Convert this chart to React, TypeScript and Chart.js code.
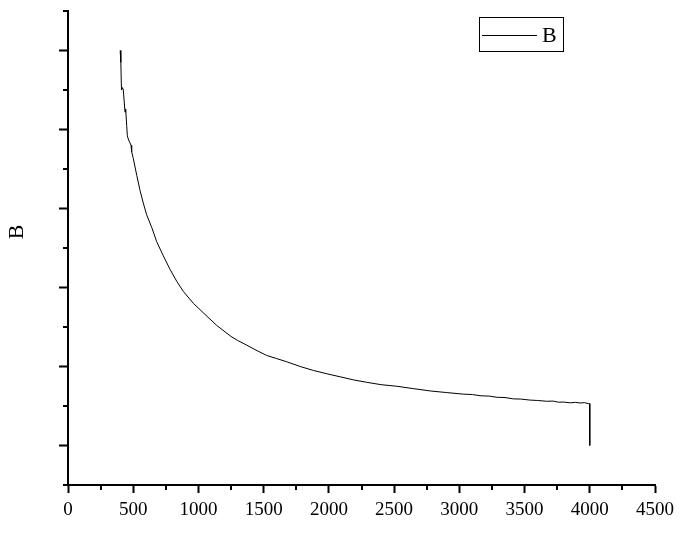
import React, { useEffect, useRef } from "react";
import { Chart, registerables } from "chart.js";

Chart.register(...registerables);

const seriesName = "B";
const xTickValues = [0, 500, 1000, 1500, 2000, 2500, 3000, 3500, 4000, 4500];
const xValues = [
  400, 405, 410, 418, 424, 437, 442, 450, 455, 462, 475, 483, 488, 501, 527, 552, 577, 603, 642, 680,
  731, 782, 833, 884, 961, 1037, 1140, 1250, 1300, 1370, 1450, 1523, 1600, 1677, 1780, 1881, 1980, 2085,
  2190, 2290, 2400, 2520, 2647, 2780, 2903, 3030, 3100, 3159, 3230, 3290, 3350, 3414, 3470, 3540, 3600,
  3670, 3720, 3760, 3800, 3850, 3890, 3925, 3960, 3990, 4000, 4000,
];
const yValues = [
  5.0, 4.85, 4.5, 4.53, 4.5, 4.22, 4.26, 4.05, 3.92, 3.88, 3.83, 3.8, 3.72, 3.63, 3.42, 3.23, 3.07, 2.92,
  2.76, 2.58, 2.4, 2.23, 2.08, 1.95, 1.8, 1.68, 1.52, 1.38, 1.33, 1.27, 1.2, 1.14, 1.1, 1.06, 1.0, 0.95,
  0.91, 0.87, 0.83, 0.8, 0.77, 0.75, 0.72, 0.69, 0.67, 0.65, 0.645, 0.63, 0.625, 0.61, 0.607, 0.59, 0.588,
  0.575, 0.57, 0.56, 0.562, 0.548, 0.55, 0.54, 0.546, 0.538, 0.542, 0.53, 0.53, 0.0,
];
const yMajorTicks = [0, 1, 2, 3, 4, 5];
const yMin = -0.5;
const yMax = 5.5;

const FONT = "'Liberation Serif', 'Times New Roman', serif";

const decorPlugin = {
  id: "decor",
  afterDraw(chart: any) {
    const ctx = chart.ctx;
    const xs = chart.scales.x;
    const ys = chart.scales.y;
    const area = chart.chartArea;
    ctx.save();
    ctx.strokeStyle = "#000";
    ctx.lineWidth = 2;
    // minor x ticks
    for (let v = 250; v < 4500; v += 500) {
      const px = Math.round(xs.getPixelForValue(v));
      ctx.beginPath();
      ctx.moveTo(px, area.bottom);
      ctx.lineTo(px, area.bottom + 5);
      ctx.stroke();
    }
    // minor y ticks
    for (let v = yMin; v <= yMax + 0.001; v += 1) {
      const py = Math.round(ys.getPixelForValue(v));
      ctx.beginPath();
      ctx.moveTo(area.left, py);
      ctx.lineTo(area.left - 5, py);
      ctx.stroke();
    }
    // y title
    ctx.fillStyle = "#000";
    ctx.font = `22px ${FONT}`;
    ctx.translate(17, 232);
    ctx.rotate(-Math.PI / 2);
    ctx.textAlign = "center";
    ctx.textBaseline = "middle";
    ctx.fillText(seriesName, 0, 0);
    ctx.restore();

    // legend
    ctx.save();
    ctx.strokeStyle = "#000";
    ctx.lineWidth = 1;
    ctx.strokeRect(479.5, 17.5, 84, 34);
    ctx.beginPath();
    ctx.moveTo(482, 35.5);
    ctx.lineTo(537, 35.5);
    ctx.stroke();
    ctx.fillStyle = "#000";
    ctx.font = `22px ${FONT}`;
    ctx.textAlign = "left";
    ctx.textBaseline = "middle";
    ctx.fillText(seriesName, 542, 36);
    ctx.restore();
  },
};

export default function App() {
  const ref = useRef<HTMLCanvasElement | null>(null);
  useEffect(() => {
    if (!ref.current) return;
    const data = xValues.map((x, i) => ({ x, y: yValues[i] }));
    const chart = new Chart(ref.current, {
      type: "line",
      data: {
        datasets: [
          {
            label: seriesName,
            data,
            borderColor: "#000",
            borderWidth: 1,
            pointRadius: 0,
            tension: 0,
            fill: false,
          },
        ],
      },
      options: {
        animation: false,
        responsive: false,
        events: [],
        layout: { padding: { top: 11, right: 34, left: 0, bottom: 0 } },
        plugins: { legend: { display: false }, tooltip: { enabled: false } },
        scales: {
          x: {
            type: "linear",
            min: 0,
            max: 4500,
            afterFit: (s: any) => {
              s.height = 49;
            },
            afterBuildTicks: (s: any) => {
              s.ticks = xTickValues.map((v) => ({ value: v }));
            },
            ticks: {
              color: "#000",
              font: { family: FONT, size: 19 },
              padding: 6,
              maxRotation: 0,
              autoSkip: false,
              callback: (v: any) => String(v),
            },
            grid: {
              display: true,
              drawOnChartArea: false,
              drawTicks: true,
              tickLength: 8,
              tickWidth: 2,
              tickColor: "#000",
            },
            border: { display: true, color: "#000", width: 2 },
          },
          y: {
            type: "linear",
            min: yMin,
            max: yMax,
            afterFit: (s: any) => {
              s.width = 68;
            },
            afterBuildTicks: (s: any) => {
              s.ticks = yMajorTicks.map((v) => ({ value: v }));
            },
            ticks: { display: false },
            grid: {
              display: true,
              drawOnChartArea: false,
              drawTicks: true,
              tickLength: 9,
              tickWidth: 2,
              tickColor: "#000",
            },
            border: { display: true, color: "#000", width: 2 },
          },
        },
      },
      plugins: [decorPlugin],
    });
    return () => chart.destroy();
  }, []);
  return (
    <div style={{ position: "absolute", left: 0, top: 0, width: 689, height: 534, background: "#fff" }}>
      <canvas ref={ref} width={689} height={534} style={{ display: "block" }} />
    </div>
  );
}
